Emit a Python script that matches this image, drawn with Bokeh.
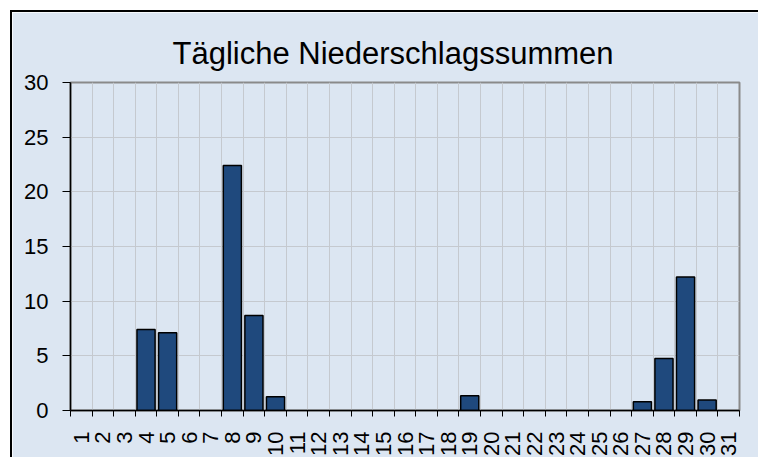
import math
from bokeh.plotting import figure
from bokeh.models import FixedTicker, Range1d
from bokeh.embed import file_html
from bokeh.resources import INLINE

title_text = "Tägliche Niederschlagssummen"
days = list(range(1, 32))
rain = [0, 0, 0, 7.4, 7.1, 0, 0, 22.4, 8.7, 1.25,
        0, 0, 0, 0, 0, 0, 0, 0, 1.35, 0,
        0, 0, 0, 0, 0, 0, 0.8, 4.75, 12.2, 0.95, 0]
y_ticks = [0, 5, 10, 15, 20, 25, 30]

BG = "#dce6f2"
BAR = "#1f497d"
GRID = "#c5c9cf"
FONT = "Liberation Sans"

p = figure(width=748, height=447,
           x_range=Range1d(0.5, 31.5), y_range=Range1d(0, 30),
           output_backend="svg", toolbar_location=None,
           min_border_left=58, min_border_right=21,
           min_border_top=70, min_border_bottom=49,
           background_fill_color=BG, border_fill_color=BG,
           outline_line_color="#8a8a8a", outline_line_width=2)
p.styles = {"border-left": "2px solid black", "border-top": "2px solid black",
            "margin-left": "10px", "margin-top": "10px"}

p.title.text = title_text
p.title.align = "left"
p.title.offset = 102
p.title.standoff = 24
p.title.text_font = FONT
p.title.text_font_size = "31px"
p.title.text_font_style = "normal"
p.title.text_color = "black"

bx = [d for d, v in zip(days, rain) if v > 0]
bv = [v for v in rain if v > 0]
p.vbar(x=bx, top=bv, width=0.84, fill_color=BAR, line_color="black", line_width=1.5)

xt = FixedTicker(ticks=days, minor_ticks=[d + 0.5 for d in [0] + days])
p.xaxis.ticker = xt
p.xgrid.ticker = xt
p.xaxis.major_tick_line_color = None
p.xaxis.major_tick_out = 0
p.xaxis.major_tick_in = 0
p.xaxis.minor_tick_out = 6
p.xaxis.minor_tick_in = 0
p.xaxis.minor_tick_line_color = "black"
p.xaxis.major_label_standoff = 15
p.xaxis.major_label_orientation = math.pi / 2
p.xaxis.major_label_text_font = FONT
p.xaxis.major_label_text_font_size = "22px"
p.xaxis.major_label_text_color = "black"
p.xaxis.axis_line_color = "black"
p.xaxis.axis_line_width = 1.5
p.xgrid.grid_line_color = None
p.xgrid.minor_grid_line_color = GRID
p.xgrid.minor_grid_line_width = 1

yt = FixedTicker(ticks=y_ticks, minor_ticks=[])
p.yaxis.ticker = yt
p.ygrid.ticker = yt
p.yaxis.major_tick_out = 8
p.yaxis.major_tick_in = 0
p.yaxis.major_tick_line_color = "black"
p.yaxis.minor_tick_line_color = None
p.yaxis.major_label_standoff = 14
p.yaxis.major_label_text_font = FONT
p.yaxis.major_label_text_font_size = "22px"
p.yaxis.major_label_text_color = "black"
p.yaxis.axis_line_color = "black"
p.yaxis.axis_line_width = 1.5
p.ygrid.grid_line_color = GRID
p.ygrid.grid_line_width = 1

open("out.html", "w").write(file_html(p, INLINE))
